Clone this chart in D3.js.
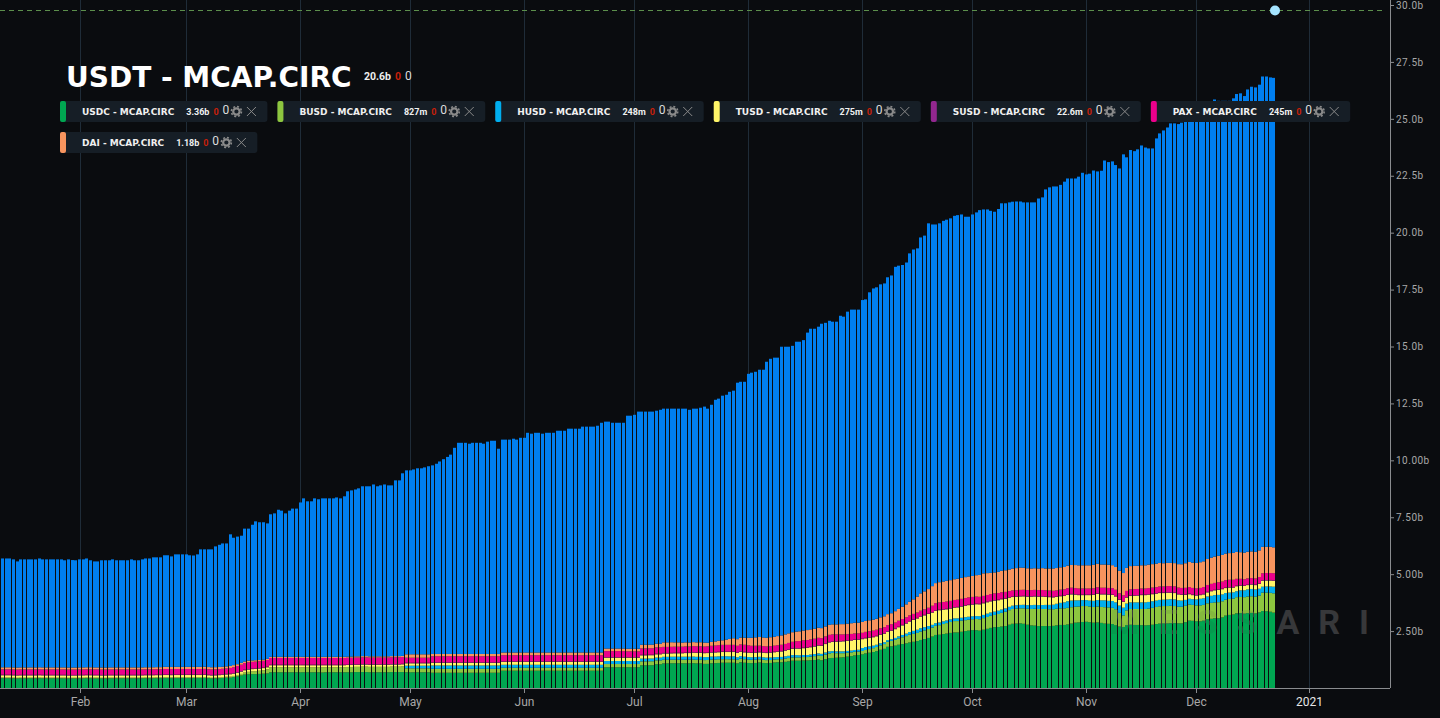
<!DOCTYPE html>
<html>
<head>
<meta charset="utf-8">
<script src="https://cdn.jsdelivr.net/npm/d3@7/dist/d3.min.js"></script>
<style>
  html, body { margin: 0; padding: 0; background: #0a0c0f; overflow: hidden; }
  svg { display: block; }
</style>
</head>
<body>
<svg id="chart" width="1440" height="718"></svg>
<script>
// top of the whole stack per day, in billions
const stackTop = [
  5.69,5.69,5.69,5.65,5.56,5.65,5.65,5.65,5.65,5.65,
  5.69,5.65,5.65,5.65,5.65,5.65,5.65,5.61,5.65,5.62,
  5.61,5.65,5.65,5.69,5.61,5.56,5.56,5.61,5.61,5.61,
  5.65,5.61,5.61,5.61,5.61,5.65,5.61,5.61,5.65,5.69,
  5.69,5.74,5.74,5.74,5.83,5.83,5.78,5.87,5.87,5.87,
  5.87,5.83,5.82,5.87,6.09,6.09,6.09,6.09,6.22,6.29,
  6.35,6.35,6.75,6.60,6.65,6.69,7.00,7.00,7.17,7.32,
  7.28,7.28,7.23,7.63,7.67,7.83,7.79,7.67,7.79,7.88,
  7.88,8.15,8.33,8.20,8.20,8.33,8.29,8.33,8.33,8.33,
  8.33,8.37,8.33,8.42,8.64,8.68,8.72,8.77,8.86,8.86,
  8.86,8.94,8.86,8.90,8.94,8.90,8.90,9.12,9.12,9.43,
  9.56,9.56,9.60,9.65,9.65,9.69,9.74,9.78,9.85,9.95,
  10.05,10.15,10.25,10.55,10.77,10.77,10.77,10.73,10.77,10.77,
  10.77,10.73,10.82,10.86,10.86,10.51,10.91,10.91,10.91,10.95,
  10.91,10.99,10.99,11.21,11.17,11.21,11.21,11.17,11.21,11.21,
  11.21,11.30,11.30,11.30,11.39,11.39,11.39,11.39,11.48,11.48,
  11.48,11.48,11.52,11.65,11.70,11.70,11.65,11.65,11.65,11.65,
  11.96,11.96,12.00,12.14,12.14,12.14,12.14,12.14,12.18,12.22,
  12.27,12.27,12.27,12.27,12.27,12.27,12.27,12.22,12.27,12.27,
  12.31,12.36,12.27,12.44,12.66,12.71,12.84,12.88,13.01,13.06,
  13.41,13.45,13.45,13.80,13.85,13.89,13.98,13.98,14.33,14.46,
  14.51,14.51,14.99,14.99,14.99,15.03,15.21,15.21,15.28,15.61,
  15.78,15.78,15.87,16.00,16.04,16.13,16.09,16.09,16.35,16.31,
  16.53,16.62,16.62,16.62,17.04,17.07,17.38,17.55,17.60,17.73,
  17.77,18.04,18.12,18.50,18.55,18.58,18.69,19.09,19.26,19.31,
  19.79,19.87,20.41,20.36,20.36,20.41,20.52,20.57,20.63,20.74,
  20.77,20.80,20.70,20.70,20.80,20.89,20.99,21.02,21.02,20.96,
  20.92,21.04,21.29,21.29,21.33,21.36,21.37,21.37,21.33,21.33,
  21.33,21.33,21.50,21.55,21.90,21.99,22.03,22.03,22.10,22.24,
  22.38,22.38,22.38,22.46,22.63,22.56,22.59,22.73,22.69,22.72,
  23.17,23.10,23.13,22.97,22.82,23.44,23.31,23.63,23.58,23.66,
  23.83,23.74,23.70,23.70,24.14,24.36,24.49,24.62,24.80,24.80,
  24.77,24.83,24.95,25.02,25.09,25.16,25.24,25.31,25.46,25.75,
  25.85,25.79,25.79,25.79,25.79,25.90,26.09,26.12,26.00,26.29,
  26.41,26.38,26.50,26.86,26.86,26.82,26.80
];

// the lower layers per day, in millions
const usdc = [
  430,430,430,425,420,425,425,425,425,425,
  430,425,425,425,425,425,425,420,420,420,
  420,425,425,430,425,420,420,420,420,425,
  425,425,425,425,425,425,425,425,425,430,
  430,430,430,430,435,435,430,435,435,435,
  435,435,435,435,435,440,430,420,425,430,
  440,455,455,480,510,550,590,600,610,610,
  620,630,640,690,690,690,690,690,690,690,
  690,690,690,690,690,690,690,680,690,690,
  690,690,690,690,690,690,700,700,700,700,
  690,690,690,690,690,690,700,700,700,700,
  690,690,690,690,690,690,690,670,670,670,
  670,670,670,670,670,670,670,670,670,670,
  670,670,670,670,670,670,760,760,760,760,
  760,760,760,760,760,760,760,760,760,760,
  760,760,760,760,760,760,760,760,760,760,
  760,760,760,760,910,910,910,910,910,910,
  910,910,910,910,995,995,1000,1000,1040,1040,
  1080,1080,1085,1085,1085,1085,1085,1085,1090,1080,
  1080,1060,1060,1085,1090,1100,1110,1110,1110,1110,
  1080,1130,1110,1100,1090,1100,1120,1100,1090,1100,
  1120,1130,1130,1150,1170,1200,1200,1200,1210,1210,
  1220,1230,1250,1220,1270,1310,1320,1330,1340,1350,
  1380,1400,1430,1450,1480,1520,1550,1580,1620,1680,
  1720,1810,1830,1860,1900,1930,1960,2000,2030,2060,
  2110,2150,2200,2260,2330,2340,2370,2390,2420,2440,
  2440,2470,2500,2520,2540,2540,2520,2560,2600,2640,
  2670,2680,2700,2720,2780,2820,2830,2840,2820,2780,
  2750,2740,2720,2720,2720,2720,2730,2750,2770,2770,
  2790,2830,2870,2880,2900,2910,2890,2870,2880,2860,
  2830,2820,2810,2760,2700,2680,2760,2780,2770,2770,
  2760,2750,2760,2780,2810,2830,2840,2840,2850,2850,
  2840,2840,2890,2960,2950,2930,2930,2960,3020,3040,
  3060,3060,3100,3180,3210,3230,3280,3290,3270,3290,
  3300,3280,3320,3380,3370,3350,3310
];
const busd = [
  30,30,30,30,30,30,30,30,30,30,
  30,30,30,30,30,30,30,35,30,30,
  30,30,30,30,35,35,35,30,30,30,
  30,30,30,30,30,30,30,30,30,30,
  30,30,35,35,35,35,35,35,35,35,
  35,35,35,35,35,35,30,30,30,35,
  40,40,45,50,60,70,90,110,120,130,
  140,150,180,220,220,220,220,220,220,220,
  220,220,220,220,220,220,220,230,220,220,
  220,220,220,220,230,230,230,230,240,240,
  240,240,240,240,240,240,240,240,240,250,
  175,175,175,175,175,175,175,175,175,175,
  175,175,175,175,175,175,175,175,175,175,
  175,175,175,175,175,175,130,130,130,130,
  130,130,130,130,130,130,130,130,130,130,
  130,130,130,130,130,130,130,130,130,130,
  130,130,130,130,145,145,145,145,145,145,
  145,145,145,145,175,175,175,175,175,175,
  160,160,160,160,160,160,160,160,160,160,
  160,165,170,165,160,160,155,155,150,150,
  160,160,155,150,150,145,140,140,135,130,
  130,130,135,140,145,145,145,146,150,150,
  160,170,180,190,200,210,220,200,190,180,
  170,165,160,150,146,150,160,170,180,195,
  210,220,240,260,280,300,320,340,350,360,
  370,380,390,395,400,420,440,460,480,500,
  500,490,480,480,480,490,500,510,520,530,
  540,570,600,630,640,650,660,660,680,700,
  720,740,750,750,750,740,730,730,730,730,
  730,720,700,700,700,690,690,690,700,700,
  720,720,710,700,600,510,650,690,700,700,
  710,720,730,740,750,760,760,760,760,750,
  730,730,720,710,700,700,700,690,700,700,
  700,710,710,700,700,700,710,710,720,730,
  730,730,740,810,820,830,850
];
const husd = [
  0,0,0,0,0,0,0,0,0,0,
  0,0,0,0,0,0,0,0,0,0,
  0,0,0,0,0,0,0,0,0,0,
  0,0,0,0,0,0,0,0,0,0,
  0,0,0,0,0,0,0,0,0,0,
  0,0,0,0,0,0,0,0,0,0,
  0,0,0,0,0,0,0,0,0,0,
  0,0,0,0,0,0,0,0,0,0,
  0,0,0,0,0,0,0,0,0,0,
  0,0,0,0,0,0,0,0,0,0,
  0,0,0,0,0,0,0,0,0,0,
  115,115,115,115,115,115,115,145,145,145,
  145,145,145,145,145,145,145,145,145,145,
  145,145,145,145,145,145,130,130,130,130,
  130,130,130,130,130,130,130,130,130,130,
  130,130,130,130,130,130,130,130,130,130,
  130,130,130,130,130,130,130,130,130,130,
  130,130,130,130,120,120,120,120,120,120,
  130,130,130,130,130,130,130,130,130,130,
  130,130,130,130,130,130,130,130,130,130,
  110,110,110,110,110,110,110,110,110,110,
  100,100,100,100,100,100,100,90,90,90,
  90,90,90,90,90,90,80,80,80,80,
  80,80,80,80,130,130,120,110,100,90,
  80,73,75,80,90,100,110,120,130,140,
  146,140,130,120,117,117,117,117,117,117,
  120,125,130,130,130,130,135,140,146,146,
  146,146,146,146,146,146,146,150,155,160,
  170,170,170,175,180,190,200,220,240,260,
  290,290,280,270,260,260,260,270,280,290,
  300,290,300,300,320,340,300,290,290,290,
  290,290,290,290,280,280,280,290,290,290,
  280,270,260,250,250,260,290,290,300,310,
  320,320,300,290,280,270,260,290,300,310,
  320,320,300,260,270,280,290
];
const tusd = [
  100,100,100,100,100,100,100,100,100,100,
  100,100,100,100,100,100,100,100,100,100,
  100,100,100,100,100,100,100,100,100,100,
  100,100,100,100,100,100,100,100,100,100,
  100,100,100,100,100,100,100,100,100,100,
  100,100,100,100,100,100,100,100,100,100,
  100,100,105,100,100,100,100,100,100,100,
  95,95,90,90,90,90,90,90,90,90,
  90,90,90,90,90,90,90,90,90,90,
  90,90,90,90,90,90,90,90,90,90,
  90,90,90,90,90,90,90,90,90,90,
  105,105,105,105,105,105,105,115,115,115,
  115,115,115,115,115,115,115,115,115,115,
  115,115,115,115,115,115,130,130,130,130,
  130,130,130,130,130,130,130,130,130,130,
  130,130,130,130,130,130,130,130,130,130,
  130,130,130,130,145,145,145,145,145,145,
  145,145,145,145,145,145,145,145,145,145,
  145,145,145,150,150,150,160,160,170,170,
  175,175,175,175,180,180,185,185,190,190,
  190,190,190,190,190,195,195,200,200,210,
  220,230,240,250,260,270,285,290,300,310,
  320,330,340,350,370,390,400,420,430,440,
  440,440,440,440,390,380,375,370,370,370,
  370,370,370,385,400,420,440,460,480,495,
  510,520,530,535,540,540,510,490,470,470,
  480,490,500,510,510,520,520,510,500,490,
  480,460,450,420,400,380,370,370,370,370,
  370,370,370,370,350,340,320,300,290,280,
  280,270,250,230,220,220,240,260,270,260,
  260,270,270,260,250,250,260,280,290,300,
  320,320,320,310,300,300,290,290,280,280,
  260,250,220,200,180,170,160,170,180,200,
  210,220,230,220,220,210,220,200,190,190,
  190,190,210,260,260,260,260
];
const susd = [
  25,25,25,25,25,25,25,25,25,25,
  25,25,25,25,25,25,25,25,25,25,
  25,25,25,25,25,25,25,25,25,25,
  25,25,25,25,25,25,25,25,25,25,
  25,25,25,25,25,25,25,25,25,25,
  25,25,25,25,25,25,25,25,25,25,
  25,25,25,25,25,25,25,25,25,25,
  25,25,25,25,25,25,25,25,25,25,
  25,25,25,25,25,25,25,25,25,25,
  25,25,25,25,25,25,25,25,25,25,
  25,25,25,25,25,25,25,25,25,25,
  25,25,25,25,25,25,25,25,25,25,
  25,25,25,25,25,25,25,25,25,25,
  25,25,25,25,25,25,25,25,25,25,
  25,25,25,25,25,25,25,25,25,25,
  25,25,25,25,25,25,25,25,25,25,
  25,25,25,25,25,25,25,25,25,25,
  25,25,25,25,25,25,25,25,25,25,
  25,25,25,25,25,25,25,25,25,25,
  25,25,25,25,25,25,25,25,25,25,
  25,25,25,25,25,25,25,25,25,25,
  25,25,25,25,25,25,25,25,25,25,
  25,25,25,25,25,25,25,25,25,25,
  25,25,25,25,25,25,25,25,25,25,
  25,25,25,25,25,25,25,25,25,25,
  25,25,25,25,25,25,25,25,25,25,
  25,25,25,25,25,25,25,25,25,25,
  25,25,25,25,25,25,25,25,25,25,
  25,25,25,25,25,25,25,25,25,25,
  25,25,25,25,25,25,25,25,25,25,
  25,25,25,25,25,25,25,25,25,25,
  25,25,25,25,25,25,25,25,25,25,
  25,25,25,25,25,25,25,25,25,25,
  25,25,25,25,25,25,25,25,25,25,
  25,25,25,25,25,25,25
];
const pax = [
  235,235,235,235,235,235,235,235,235,235,
  235,235,235,235,235,235,235,235,235,235,
  235,235,235,235,235,235,235,235,235,235,
  235,235,235,235,235,235,235,235,235,235,
  235,235,235,235,240,240,240,240,240,240,
  240,240,240,240,240,240,240,240,240,240,
  240,240,250,260,270,280,290,295,295,295,
  295,295,295,295,295,295,295,295,295,295,
  295,295,295,295,295,295,295,295,295,295,
  295,295,295,295,295,295,295,295,295,295,
  295,295,295,295,295,295,295,295,295,295,
  220,220,220,220,220,220,220,265,265,265,
  265,265,265,265,265,265,265,265,265,265,
  265,265,265,265,265,265,265,265,265,265,
  265,265,265,265,265,265,265,265,265,265,
  265,265,265,265,265,265,265,265,265,265,
  265,265,265,265,265,265,265,265,265,265,
  255,255,255,255,280,280,280,280,280,280,
  265,265,265,265,265,265,265,265,265,265,
  265,265,270,275,280,285,290,290,290,290,
  290,300,310,300,290,280,270,265,265,265,
  265,265,270,270,280,290,300,310,320,320,
  320,320,320,315,310,310,310,300,290,280,
  270,265,260,255,255,260,265,265,265,265,
  265,265,265,265,260,255,250,245,240,235,
  235,240,250,280,315,315,315,315,315,315,
  315,315,315,315,315,310,305,300,295,295,
  295,290,285,280,265,265,265,265,265,265,
  265,265,265,265,265,265,265,265,265,270,
  270,270,265,265,265,265,265,265,270,270,
  270,270,270,270,265,265,270,270,270,265,
  265,265,265,265,265,265,265,270,270,270,
  275,280,285,290,290,290,290,300,300,300,
  300,310,310,320,320,320,300,280,270,270,
  265,265,280,305,305,305,305
];
const dai = [
  90,90,90,90,90,90,90,90,90,90,
  90,90,90,90,90,90,90,90,90,90,
  90,90,90,90,90,90,90,90,90,90,
  90,90,90,90,90,90,90,90,90,90,
  90,90,90,90,95,95,95,95,95,95,
  95,95,95,95,95,95,95,95,95,95,
  90,90,90,90,80,80,70,70,60,60,
  55,50,50,50,50,50,50,50,50,50,
  50,50,50,50,50,50,50,50,50,50,
  50,50,50,50,50,50,50,50,50,50,
  50,50,50,50,50,50,50,50,50,50,
  150,150,150,150,150,150,150,100,100,100,
  100,100,100,100,100,100,100,100,100,100,
  100,100,100,100,100,100,120,120,120,120,
  120,120,120,120,120,120,120,120,120,120,
  120,120,120,120,120,120,120,120,120,120,
  120,120,120,120,115,115,115,115,115,115,
  115,115,115,115,160,160,160,160,160,160,
  200,200,200,190,190,180,180,175,175,175,
  175,175,160,170,180,190,200,230,260,290,
  290,300,310,330,350,370,380,380,380,390,
  390,400,410,420,420,420,420,430,430,440,
  440,440,440,440,440,440,440,440,450,450,
  460,470,470,470,480,480,480,480,480,480,
  480,480,480,500,520,540,570,600,640,700,
  760,790,820,860,880,890,900,910,910,910,
  920,920,920,920,920,940,960,990,960,930,
  920,930,940,950,950,960,970,980,970,960,
  950,950,950,960,960,970,980,980,980,980,
  990,1000,1010,1020,1020,1020,1020,1030,1030,1020,
  1020,1020,1010,1000,990,980,1010,1020,1020,1020,
  1020,1020,1030,1030,1030,1030,1020,1020,1020,1020,
  1030,1040,1080,1100,1110,1120,1130,1130,1140,1150,
  1160,1160,1170,1170,1170,1180,1180,1170,1170,1170,
  1170,1170,1170,1160,1150,1150,1140
];

const seriesKeys = ['usdc', 'busd', 'husd', 'tusd', 'susd', 'pax', 'dai', 'usdt'];
const seriesColors = ['#00a651', '#8dc63f', '#00aeef', '#fff568', '#92278f', '#ec008c', '#f7945e', '#007ff0'];

const legendNames = ['USDC - MCAP.CIRC', 'BUSD - MCAP.CIRC', 'HUSD - MCAP.CIRC', 'TUSD - MCAP.CIRC', 'SUSD - MCAP.CIRC', 'PAX - MCAP.CIRC', 'DAI - MCAP.CIRC'];
const legendValues = ['3.36b', '827m', '248m', '275m', '22.6m', '245m', '1.18b'];
const legendColors = ['#00a651', '#8dc63f', '#00aeef', '#fff568', '#92278f', '#ec008c', '#f7945e'];

const yTicks = [2.5, 5, 7.5, 10, 12.5, 15, 17.5, 20, 22.5, 25, 27.5, 30];
const yTickLabels = ['2.50b', '5.00b', '7.50b', '10.00b', '12.5b', '15.0b', '17.5b', '20.0b', '22.5b', '25.0b', '27.5b', '30.0b'];
const xTickDates = ['2020-02-01', '2020-03-01', '2020-04-01', '2020-05-01', '2020-06-01', '2020-07-01', '2020-08-01', '2020-09-01', '2020-10-01', '2020-11-01', '2020-12-01', '2021-01-01'].map(d => new Date(d + 'T00:00:00Z'));
const xTickLabels = ['Feb', 'Mar', 'Apr', 'May', 'Jun', 'Jul', 'Aug', 'Sep', 'Oct', 'Nov', 'Dec', '2021'];
const firstDay = new Date('2020-01-10T00:00:00Z');
const lastDay = d3.utcDay.offset(firstDay, stackTop.length - 1);
const lastMarker = 29.78; // the dashed line and the dot up top

const svg = d3.select('#chart');
const plotRight = 1390, plotBottom = 688;

// The days with data are a bit tighter than the empty stretch after them
const x = d3.scaleUtc()
  .domain([xTickDates[0], lastDay, xTickDates[xTickDates.length - 1]])
  .range([80, 1270.4, 1309]);
const y = d3.scaleLinear().domain([0, 30]).range([plotBottom, 5]);
const tickX = d => Math.floor(x(d)) + 0.5;

// Build the table for the stack, USDT is what is left up to the top
const rows = stackTop.map((top, i) => {
  const lower = (usdc[i] + busd[i] + husd[i] + tusd[i] + susd[i] + pax[i] + dai[i]) / 1000;
  return {
    date: d3.utcDay.offset(firstDay, i),
    usdc: usdc[i] / 1000, busd: busd[i] / 1000, husd: husd[i] / 1000, tusd: tusd[i] / 1000,
    susd: susd[i] / 1000, pax: pax[i] / 1000, dai: dai[i] / 1000,
    usdt: top - lower
  };
});
const stacked = d3.stack().keys(seriesKeys)(rows);

// Gridlines
svg.append('g').selectAll('line')
  .data(xTickDates)
  .enter().append('line')
  .attr('x1', tickX)
  .attr('x2', tickX)
  .attr('y1', 0)
  .attr('y2', plotBottom)
  .attr('stroke', '#1f2c38');

// Watermark sits behind the bars, a fainter copy goes over them
const watermark = (parent, fill, opacity) => parent.append('text')
  .attr('x', 1388)
  .attr('y', 634)
  .attr('text-anchor', 'end')
  .attr('fill', fill)
  .attr('opacity', opacity)
  .attr('font-family', 'Roboto')
  .attr('font-weight', 700)
  .attr('font-size', 34)
  .attr('letter-spacing', 19)
  .text('MESSARI');
watermark(svg, '#38393b', 1);

// Bars, 3px wide on whole pixels which gives the uneven gaps
const barLeft = date => Math.round(x(date) + 1.8);
svg.append('g').selectAll('g')
  .data(stacked)
  .enter().append('g')
  .attr('fill', (d, i) => seriesColors[i])
  .selectAll('rect')
  .data(d => d)
  .enter().append('rect')
  .attr('x', d => barLeft(d.data.date))
  .attr('width', 3)
  .attr('y', d => y(d[1]))
  .attr('height', d => Math.max(0, y(d[0]) - y(d[1])));

watermark(svg, '#333', 0.09);

// Axes
const xAxis = d3.axisBottom(x)
  .tickValues(xTickDates)
  .tickFormat((d, i) => xTickLabels[i])
  .tickSize(5)
  .tickSizeOuter(0);
const yAxis = d3.axisRight(y)
  .tickValues(yTicks)
  .tickFormat((d, i) => yTickLabels[i])
  .tickSize(4)
  .tickPadding(2)
  .tickSizeOuter(0);

const xG = svg.append('g').attr('transform', `translate(0,${plotBottom})`).call(xAxis);
xG.select('.domain').attr('d', `M0,0.5H${plotRight}`).attr('stroke', '#8a8c8f');
xG.selectAll('.tick').attr('transform', d => `translate(${tickX(d)},0)`);
xG.selectAll('.tick line').attr('stroke', '#8a8c8f');
xG.selectAll('.tick text')
  .attr('y', 9)
  .attr('font-family', 'Roboto')
  .attr('font-size', 12)
  .attr('fill', (d, i) => (i === xTickLabels.length - 1 ? '#e6e6e6' : '#a8a8a8'));

const yG = svg.append('g').attr('transform', `translate(${plotRight},0)`).call(yAxis);
yG.select('.domain').attr('d', `M0.5,0V${plotBottom}`).attr('stroke', '#8a8c8f');
yG.selectAll('.tick line').attr('stroke', '#8a8c8f');
yG.selectAll('.tick text')
  .attr('font-family', 'Roboto')
  .attr('font-size', 10)
  .attr('letter-spacing', 0.5)
  .attr('fill', '#a8a8a8');

// Dashed line and last value dot
const markerY = Math.round(y(lastMarker)) + 0.5;
svg.append('line')
  .attr('x1', 0)
  .attr('x2', plotRight - 5)
  .attr('y1', markerY)
  .attr('y2', markerY)
  .attr('stroke', '#5c8f4c')
  .attr('stroke-dasharray', '5 4');
svg.append('circle')
  .attr('cx', barLeft(lastDay) + 3)
  .attr('cy', markerY)
  .attr('r', 5)
  .attr('fill', '#a4e4ff');

// Title
const title = svg.append('g');
title.append('text')
  .attr('x', 66).attr('y', 87)
  .attr('fill', '#fff')
  .attr('font-family', 'DejaVu Sans')
  .attr('font-weight', 700)
  .attr('font-size', 28)
  .text('USDT - MCAP.CIRC');
title.append('text')
  .attr('x', 364).attr('y', 80)
  .attr('fill', '#eee')
  .attr('font-family', 'Roboto')
  .attr('font-weight', 700)
  .attr('font-size', 10.5)
  .text('20.6b');
title.append('text')
  .attr('x', 395).attr('y', 80)
  .attr('fill', '#c8200a')
  .attr('font-family', 'Roboto')
  .attr('font-weight', 700)
  .attr('font-size', 10.5)
  .text('0');
title.append('text')
  .attr('x', 405).attr('y', 80)
  .attr('fill', '#ddd')
  .attr('font-family', 'Roboto')
  .attr('font-size', 12)
  .text('0');

// Legend pills, laid out left to right and wrapped when they run out of room
let penX = 60, penY = 101;
const pillHeight = 21;
legendNames.forEach((name, i) => {
  const g = svg.append('g');
  const box = g.append('rect').attr('y', penY).attr('height', pillHeight).attr('rx', 3).attr('fill', '#161e26');
  g.append('rect').attr('x', penX).attr('y', penY).attr('width', 6).attr('height', pillHeight).attr('rx', 2).attr('fill', legendColors[i]);

  const textY = penY + 14;
  const label = g.append('text').attr('x', penX + 22).attr('y', textY)
    .attr('fill', '#f0f0f0').attr('font-family', 'DejaVu Sans').attr('font-weight', 700).attr('font-size', 9)
    .text(name);
  const valX = penX + 22 + label.node().getComputedTextLength() + 12;
  const val = g.append('text').attr('x', valX).attr('y', textY)
    .attr('fill', '#f0f0f0').attr('font-family', 'Roboto').attr('font-weight', 700).attr('font-size', 9)
    .text(legendValues[i]);
  const redX = valX + val.node().getComputedTextLength() + 4;
  g.append('text').attr('x', redX).attr('y', textY)
    .attr('fill', '#c8200a').attr('font-family', 'Roboto').attr('font-weight', 700).attr('font-size', 9)
    .text('0');
  g.append('text').attr('x', redX + 9).attr('y', textY - 1)
    .attr('fill', '#ddd').attr('font-family', 'Roboto').attr('font-size', 12)
    .text('0');

  // gear
  const gearX = redX + 23, midY = penY + pillHeight / 2;
  g.append('circle').attr('cx', gearX).attr('cy', midY).attr('r', 3.2)
    .attr('fill', 'none').attr('stroke', '#8a8a8a').attr('stroke-width', 2.2);
  g.append('circle').attr('cx', gearX).attr('cy', midY).attr('r', 5)
    .attr('fill', 'none').attr('stroke', '#8a8a8a').attr('stroke-width', 1.6).attr('stroke-dasharray', '2 1.93');

  // close cross
  const crossX = gearX + 15;
  g.append('path')
    .attr('d', `M${crossX - 4.5},${midY - 4.5}L${crossX + 4.5},${midY + 4.5}M${crossX + 4.5},${midY - 4.5}L${crossX - 4.5},${midY + 4.5}`)
    .attr('stroke', '#8a8a8a').attr('fill', 'none');

  const pillEnd = crossX + 16;
  box.attr('x', penX).attr('width', pillEnd - penX);
  penX = pillEnd + 10;
  if (penX > 1300) { penX = 60; penY = 132; }
});
</script>
</body>
</html>
